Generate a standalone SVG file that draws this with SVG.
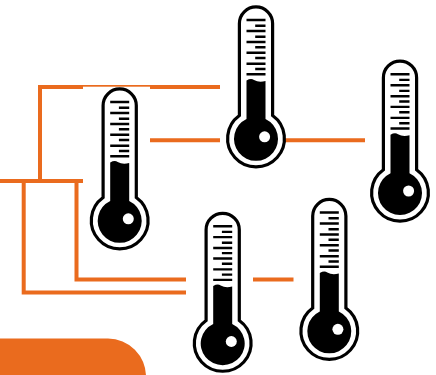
<svg xmlns="http://www.w3.org/2000/svg" width="436" height="375" viewBox="0 0 436 375">
<style>
.wire{fill:none;stroke:#EA6B1E;stroke-width:4}
.tube{fill:#fff;stroke:#000;stroke-width:3.2}
.tick{stroke:#000;stroke-width:2.400}
</style>
<defs>
<g id="therm">
<path class="tube" d="M-16.600 -23 V-115 A16.600 16.600 0 0 1 16.600 -115 V-23 A28.400 28.400 0 1 1 -16.600 -23Z"/>
<path fill="#000" d="M-9.500 -58 Q-5 -60.500 -2 -58.500 Q3 -55.500 9.500 -57.500 V-19.500 A22 22 0 1 1 -9.500 -19.500Z"/>
<circle cx="8.600" cy="-1.700" r="5.500" fill="#fff"/>
<path class="tick" d="M-9.500 -118.500H9.500M-0.800 -112.800H9.500M-9.500 -107.500H9.500M-0.800 -101.800H9.500M-9.500 -96.500H9.500M-0.800 -91.200H9.500M-9.500 -85.800H9.500M-0.800 -80.500H9.500M-9.500 -74.800H9.500M-0.800 -69.500H9.500M-9.500 -64.200H9.500"/>
</g>
</defs>
<path id="panel" fill="#EA6B1E" d="M0 338.500H108A38 38 0 0 1 146 376.500V375H0Z"/>
<g id="connectors">
<path class="wire" d="M0 181H83M40 181V87H220M23.700 181V292.500H186M76.500 181V279.500H186"/>
<path class="wire" d="M150 140.300H220M285 140.300H365M253 279.500H293.500"/>
</g>
<g id="thermometer-1">
<rect x="83" y="86.700" width="67" height="165" fill="#fff"/>
<use href="#therm" x="119.700" y="220.500"/>
</g>
<g id="thermometer-2"><use href="#therm" x="256" y="138.500"/></g>
<g id="thermometer-3"><use href="#therm" x="400" y="192.700"/></g>
<g id="thermometer-4"><use href="#therm" transform="translate(222.700 343.200) scale(1 .987)"/></g>
<g id="thermometer-5"><use href="#therm" x="329.300" y="331"/></g>
</svg>
